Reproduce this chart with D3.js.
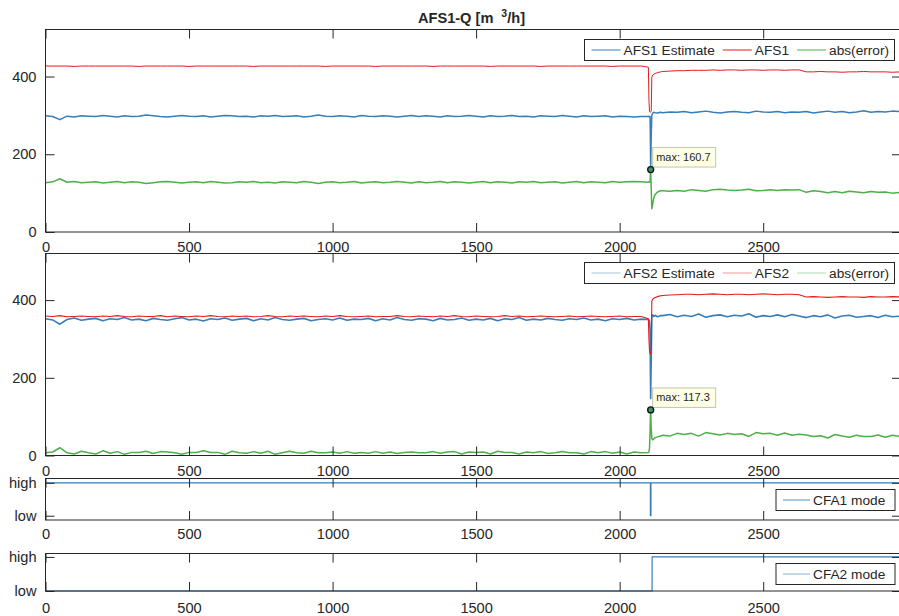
<!DOCTYPE html>
<html><head><meta charset="utf-8">
<script src="https://cdn.jsdelivr.net/npm/d3@7"></script>
<style>
body{margin:0;background:#fff}
text{font-family:"Liberation Sans",Arial,Helvetica,sans-serif;fill:#262626}
</style>
</head><body>
<svg id="c" width="899" height="616" style="background:#fff"></svg>
<script>
// ---------------- DATA ----------------
const xTickValues = [0, 500, 1000, 1500, 2000, 2500];
const yTickValues = [0, 200, 400];
const modeTickValues = [0, 1];
const modeLabels = ["low", "high"];

// sample positions (time index)
const xBefore = d3.range(0, 2076, 25);                       // 84 samples
const xTrans = [2100, 2102, 2104, 2106, 2107, 2108, 2110, 2112, 2115, 2119, 2124, 2132, 2142];
const xAfter = [...d3.range(2150, 2951, 25), 2980];           // 34 samples
const sampleX = [...xBefore, ...xTrans, ...xAfter];

const afs1Est = [
 299,297,289,298,296,299,298,297,300,298,296,299,
 297,298,301,299,297,296,298,300,298,297,299,296,
 298,300,299,297,298,296,299,298,300,297,298,299,
 296,298,301,298,297,299,298,296,300,298,297,299,
 298,296,298,300,297,299,298,296,299,297,298,300,
 298,296,299,297,298,300,297,298,296,299,298,297,
 300,298,296,299,297,298,299,296,298,297,296,297,
 297,298,296,297,240,161,250,300,306,308,307,306,308,
 307,309,308,310,307,309,311,308,306,309,310,308,307,311,309,308,310,307,309,308,
 310,306,309,311,308,310,307,309,312,308,310,309,311,310];
const afs1 = [
 427,427,427,427,426,427,427,427,427,427,427,427,
 427,426,427,427,427,427,427,427,426,427,427,427,
 427,427,427,427,427,426,427,427,427,427,427,427,
 427,427,427,426,427,427,427,427,427,427,426,427,
 427,427,427,427,427,427,426,427,427,427,427,427,
 427,427,426,427,427,427,427,427,427,426,427,427,
 427,427,427,427,427,427,427,426,427,427,427,427,
 424,340,310,308,308,309,312,398,404,406,408,410,412,
 413,414,415,415,416,416,416,417,416,417,417,416,417,417,416,417,417,416,417,417,
 412,412,413,412,412,411,412,412,413,412,412,412,411,412];
const afs1Err = [
 127,129,137,128,130,127,128,129,126,128,130,127,
 129,128,125,127,129,130,128,126,128,129,127,130,
 128,126,127,129,128,130,127,128,126,129,128,127,
 130,128,125,128,129,127,128,130,126,128,129,127,
 128,130,128,126,129,127,128,130,127,129,128,126,
 128,130,127,129,128,126,129,128,130,127,128,129,
 126,128,130,127,129,128,127,130,128,129,130,129,
 128,129,128,130,150,160.7,110,60,72,88,97,103,106,
 106,105,107,105,109,107,105,109,110,108,107,108,110,106,107,109,107,109,108,109,
 102,106,104,101,104,101,105,103,101,104,102,103,100,102];

const afs2Est = [
 352,349,338,350,354,348,351,353,347,352,350,355,
 349,351,347,353,350,348,352,355,349,351,346,352,
 350,354,348,351,353,347,352,349,355,350,348,351,
 353,347,350,352,349,354,348,351,350,353,347,352,
 349,355,350,348,352,351,347,353,349,350,354,348,
 351,349,353,347,352,350,355,348,351,349,353,350,
 348,352,350,354,349,351,347,352,350,353,349,351,
 350,349,347,320,220,147,250,355,362,358,361,357,360,
 360,363,357,361,358,364,356,360,362,357,361,359,365,356,360,358,362,357,363,359,
 355,360,357,362,354,359,361,356,358,360,355,361,357,359];
const afs2 = [
 359,358,360,357,358,359,358,357,359,358,360,358,
 357,359,358,358,360,357,359,358,357,359,358,360,
 358,357,359,358,359,357,358,360,358,357,359,358,
 359,358,357,359,358,360,358,357,358,359,357,358,
 358,360,358,357,359,358,357,359,358,360,358,357,
 359,358,357,358,360,358,359,357,358,359,358,357,
 358,359,357,358,359,358,357,358,359,357,358,358,
 352,300,268,262,262,263,270,398,402,405,407,409,411,
 412,413,414,415,415,414,415,416,415,414,415,415,414,415,416,415,414,415,415,414,
 408,409,408,407,408,409,408,408,407,409,408,408,409,408];
const afs2Err = [
 7,9,20,7,4,11,7,4,12,6,10,3,
 8,8,11,5,10,9,7,3,8,8,12,8,
 8,3,11,7,6,10,6,11,3,7,11,7,
 6,11,7,7,9,6,10,6,8,6,10,6,
 9,5,8,9,7,7,10,6,9,10,4,9,
 8,9,4,11,8,8,4,9,7,10,5,7,
 10,7,7,4,10,7,10,6,9,4,9,7,
 8,9,20,60,100,117.3,70,44,40,43,46,48,50,
 52,50,57,54,57,50,59,56,53,57,54,56,49,59,56,57,52,58,52,55,
 53,49,51,45,54,50,47,52,49,49,53,47,52,49];

const cfa1X = [0, 2107, 2109, 2980];
const cfa1Mode = [1, 0, 1, 1];
const cfa2X = [0, 2113, 2980];
const cfa2Mode = [0, 1, 1];

const maxTip1 = {x: 2108, y: 160.7};
const maxTip2 = {x: 2108, y: 117.3};

// ---------------- DRAWING ----------------
const BLUE = "#377eb8", RED = "#e41a1c", GREEN = "#4daf4a", AX = "#262626";
const svg = d3.select("#c");
const X_MAX = 2980;
const LEFT = 45.5, RIGHT = 901;
const x = d3.scaleLinear().domain([0, X_MAX]).range([LEFT, RIGHT]);
const FS = "14.6px";

function panel(p) {
  const y = d3.scaleLinear().domain(p.yDomain).range([p.bottom, p.top]);
  const g = svg.append("g");
  const cid = "clip" + p.id;
  svg.append("clipPath").attr("id", cid).append("rect")
    .attr("x", LEFT).attr("y", p.top - 1).attr("width", RIGHT - LEFT).attr("height", p.bottom - p.top + 2);
  p.series.forEach(s => {
    g.append("path")
      .datum(s.xs.map((xv, i) => [xv, s.values[i]]))
      .attr("clip-path", `url(#${cid})`)
      .attr("fill", "none").attr("stroke", s.color).attr("stroke-width", s.width || 1)
      .attr("stroke-linejoin", "round")
      .attr("d", d3.line().x(d => x(d[0])).y(d => y(d[1])).curve(s.curve || d3.curveLinear));
  });
  const bottomAx = g.append("g").attr("transform", `translate(0,${p.bottom})`)
    .call(d3.axisBottom(x).tickValues(xTickValues).tickFormat(d3.format("d"))
      .tickSizeInner(-9).tickSizeOuter(0).tickPadding(p.pad));
  const topAx = g.append("g").attr("transform", `translate(0,${p.top})`)
    .call(d3.axisTop(x).tickValues(xTickValues).tickFormat("").tickSizeInner(-9).tickSizeOuter(0));
  const leftAx = g.append("g").attr("transform", `translate(${LEFT},0)`)
    .call(d3.axisLeft(y).tickValues(p.yTicks).tickFormat(p.yFormat)
      .tickSizeInner(-9).tickSizeOuter(0).tickPadding(9));
  const rightAx = g.append("g").attr("transform", `translate(${RIGHT},0)`)
    .call(d3.axisRight(y).tickValues(p.yTicks).tickFormat("").tickSizeInner(-9).tickSizeOuter(0));
  [bottomAx, topAx, leftAx, rightAx].forEach(a => {
    a.select(".domain").remove();
    a.selectAll(".tick line").attr("stroke", AX);
    a.selectAll(".tick text").attr("fill", AX).style("font-size", FS)
      .style("font-family", '"Liberation Sans",Arial,Helvetica,sans-serif');
  });
  g.append("rect").attr("x", LEFT).attr("y", p.top).attr("width", RIGHT - LEFT).attr("height", p.bottom - p.top)
    .attr("fill", "none").attr("stroke", AX).attr("stroke-width", 1);
  return y;
}

function legend(bx, by, bw, bh, items, lineLen) {
  const g = svg.append("g");
  g.append("rect").attr("x", bx).attr("y", by).attr("width", bw).attr("height", bh)
    .attr("fill", "#fff").attr("stroke", AX).attr("stroke-width", 1);
  let cx = bx + 7;
  const cy = by + bh / 2;
  items.forEach(it => {
    g.append("line").attr("x1", cx).attr("x2", cx + lineLen).attr("y1", cy).attr("y2", cy)
      .attr("stroke", it.color).attr("stroke-width", 1).attr("stroke-opacity", it.op || 1);
    const t = g.append("text").attr("x", cx + lineLen + 3).attr("y", cy + 5)
      .style("font-size", "13.7px").text(it.label);
    cx = cx + lineLen + 3 + t.node().getComputedTextLength() + 8;
  });
}

function tip(y, d, label) {
  const px = x(d.x), py = y(d.y);
  const g = svg.append("g");
  g.append("rect").attr("x", px + 2).attr("y", py - 22).attr("width", 63).attr("height", 19.5)
    .attr("fill", "#ffffe6").attr("stroke", "#c4c4b0").attr("stroke-width", 1);
  g.append("text").attr("x", px + 5.5).attr("y", py - 8.5).style("font-size", "11px").text(label);
  g.append("circle").attr("cx", px).attr("cy", py).attr("r", 3)
    .attr("fill", "#3f8f6f").attr("stroke", "#111").attr("stroke-width", 1.3);
}

// Panel 1
const y1 = panel({id: 1, top: 29.5, bottom: 232, yDomain: [0, 521], yTicks: yTickValues, yFormat: d3.format("d"), pad: 10,
  series: [
    {xs: sampleX, values: afs1Est, color: BLUE, width: 1.5},
    {xs: sampleX, values: afs1, color: RED, width: 1},
    {xs: sampleX, values: afs1Err, color: GREEN, width: 1.5}
  ]});
// Panel 2
const y2 = panel({id: 2, top: 253.5, bottom: 455.5, yDomain: [0, 520], yTicks: yTickValues, yFormat: d3.format("d"), pad: 10.5,
  series: [
    {xs: sampleX, values: afs2Est, color: BLUE, width: 1.6},
    {xs: sampleX, values: afs2, color: RED, width: 1.1},
    {xs: sampleX, values: afs2Err, color: GREEN, width: 1.5}
  ]});
// Panel 3
panel({id: 3, top: 478.5, bottom: 520, yDomain: [-0.13, 1.13], yTicks: modeTickValues, yFormat: d => modeLabels[d], pad: 9,
  series: [{xs: cfa1X, values: cfa1Mode, color: BLUE, width: 1.2, curve: d3.curveStepAfter}]});
// Panel 4
panel({id: 4, top: 553.5, bottom: 591, yDomain: [0, 1.1], yTicks: modeTickValues, yFormat: d => modeLabels[d], pad: 12,
  series: [{xs: cfa2X, values: cfa2Mode, color: BLUE, width: 1.2, curve: d3.curveStepAfter}]});

// legends
legend(584.5, 39.5, 310, 21, [
  {label: "AFS1 Estimate", color: BLUE}, {label: "AFS1", color: RED}, {label: "abs(error)", color: GREEN}], 29);
legend(584.5, 262.5, 310, 21, [
  {label: "AFS2 Estimate", color: BLUE, op: 0.45}, {label: "AFS2", color: RED, op: 0.45}, {label: "abs(error)", color: GREEN, op: 0.45}], 29);
legend(776, 489.5, 119, 21, [{label: "CFA1 mode", color: BLUE, op: 0.85}], 27);
legend(776, 563.5, 119, 21, [{label: "CFA2 mode", color: BLUE, op: 0.6}], 27);

// data tips
tip(y1, maxTip1, "max: " + maxTip1.y);
tip(y2, maxTip2, "max: " + maxTip2.y);

// title
const title = svg.append("text").attr("x", 471.5).attr("y", 23).attr("text-anchor", "middle")
  .style("font-size", "14.6px").style("font-weight", "bold");
title.append("tspan").text("AFS1-Q [m");
title.append("tspan").attr("dx", 8).attr("dy", -6).style("font-size", "10.5px").text("3");
title.append("tspan").attr("dy", 6).text("/h]");
</script>
</body></html>
